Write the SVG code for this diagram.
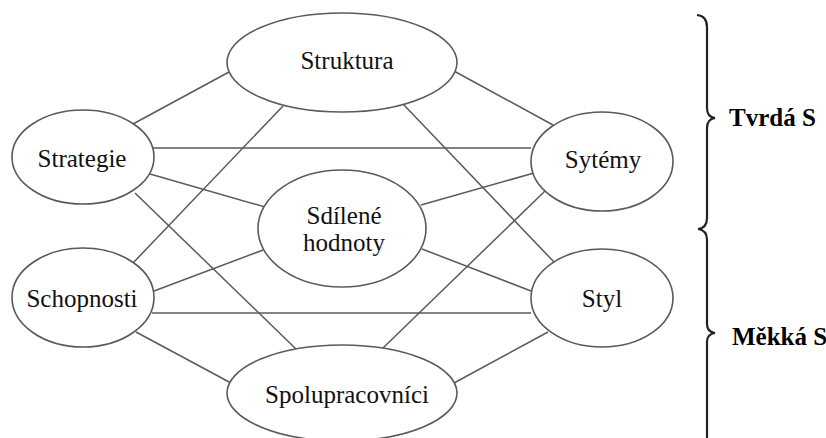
<svg xmlns="http://www.w3.org/2000/svg" width="826" height="438" viewBox="0 0 826 438">
  <style>
    .bg { fill: #ffffff; }
    .edge { stroke: #5a5a5a; stroke-width: 1.5; fill: none; }
    .node ellipse { fill: #ffffff; stroke: #5a5a5a; stroke-width: 1.6; }
    .node text { font-family: "Liberation Serif", "Times New Roman", serif; font-size: 25px; fill: #111; text-anchor: middle; }
    .brace { stroke: #222; stroke-width: 2.2; fill: none; }
    .group-label { font-family: "Liberation Serif", "Times New Roman", serif; font-size: 25px; font-weight: bold; fill: #000; }
  </style>
  <rect class="bg" x="0" y="0" width="826" height="438"/>

  <!-- connectors -->
  <g id="connectors">
    <line class="edge" x1="133" y1="124" x2="229" y2="72"/>
    <line class="edge" x1="153" y1="148" x2="531" y2="148"/>
    <line class="edge" x1="150" y1="174" x2="265" y2="207"/>
    <line class="edge" x1="135" y1="193" x2="296" y2="349"/>
    <line class="edge" x1="283" y1="106" x2="133" y2="263"/>
    <line class="edge" x1="403" y1="104" x2="554" y2="262"/>
    <line class="edge" x1="454" y1="71" x2="553" y2="125"/>
    <line class="edge" x1="534" y1="173" x2="421" y2="205"/>
    <line class="edge" x1="545" y1="191" x2="383" y2="348"/>
    <line class="edge" x1="154" y1="291" x2="263" y2="250"/>
    <line class="edge" x1="152" y1="313" x2="531" y2="313"/>
    <line class="edge" x1="136" y1="332" x2="231" y2="383"/>
    <line class="edge" x1="422" y1="249" x2="531" y2="291"/>
    <line class="edge" x1="548" y1="332" x2="454" y2="383"/>
  </g>

  <!-- nodes -->
  <g id="struktura" class="node">
    <ellipse cx="342" cy="62.5" rx="115" ry="49.5"/>
    <text x="347" y="69">Struktura</text>
  </g>
  <g id="strategie" class="node">
    <ellipse cx="83" cy="157" rx="71" ry="47"/>
    <text x="82" y="167">Strategie</text>
  </g>
  <g id="sytemy" class="node">
    <ellipse cx="602" cy="161.5" rx="71" ry="49.5"/>
    <text x="603" y="168">Sytémy</text>
  </g>
  <g id="sdilene-hodnoty" class="node">
    <ellipse cx="342" cy="228.5" rx="84" ry="58.5"/>
    <text x="344" y="224">Sdílené</text>
    <text x="344" y="251">hodnoty</text>
  </g>
  <g id="schopnosti" class="node">
    <ellipse cx="83" cy="297.5" rx="71" ry="49.5"/>
    <text x="82" y="307">Schopnosti</text>
  </g>
  <g id="styl" class="node">
    <ellipse cx="602" cy="298" rx="71" ry="49"/>
    <text x="602" y="307">Styl</text>
  </g>
  <g id="spolupracovnici" class="node">
    <ellipse cx="342" cy="393" rx="115" ry="48"/>
    <text x="347" y="403">Spolupracovníci</text>
  </g>

  <!-- group braces -->
  <g id="tvrda-s">
    <path class="brace" d="M697,15 Q707,16 707,27 L707,108 Q707,117 715,118 Q707,119 707,128 L707,218 Q707,228 698,229"/>
    <text class="group-label" x="729" y="126">Tvrdá S</text>
  </g>
  <g id="mekka-s">
    <path class="brace" d="M698,229 Q707,230 707,240 L707,324 Q707,332 715,333 Q707,334 707,342 L707,440"/>
    <text class="group-label" x="732" y="345">Měkká S</text>
  </g>
</svg>
